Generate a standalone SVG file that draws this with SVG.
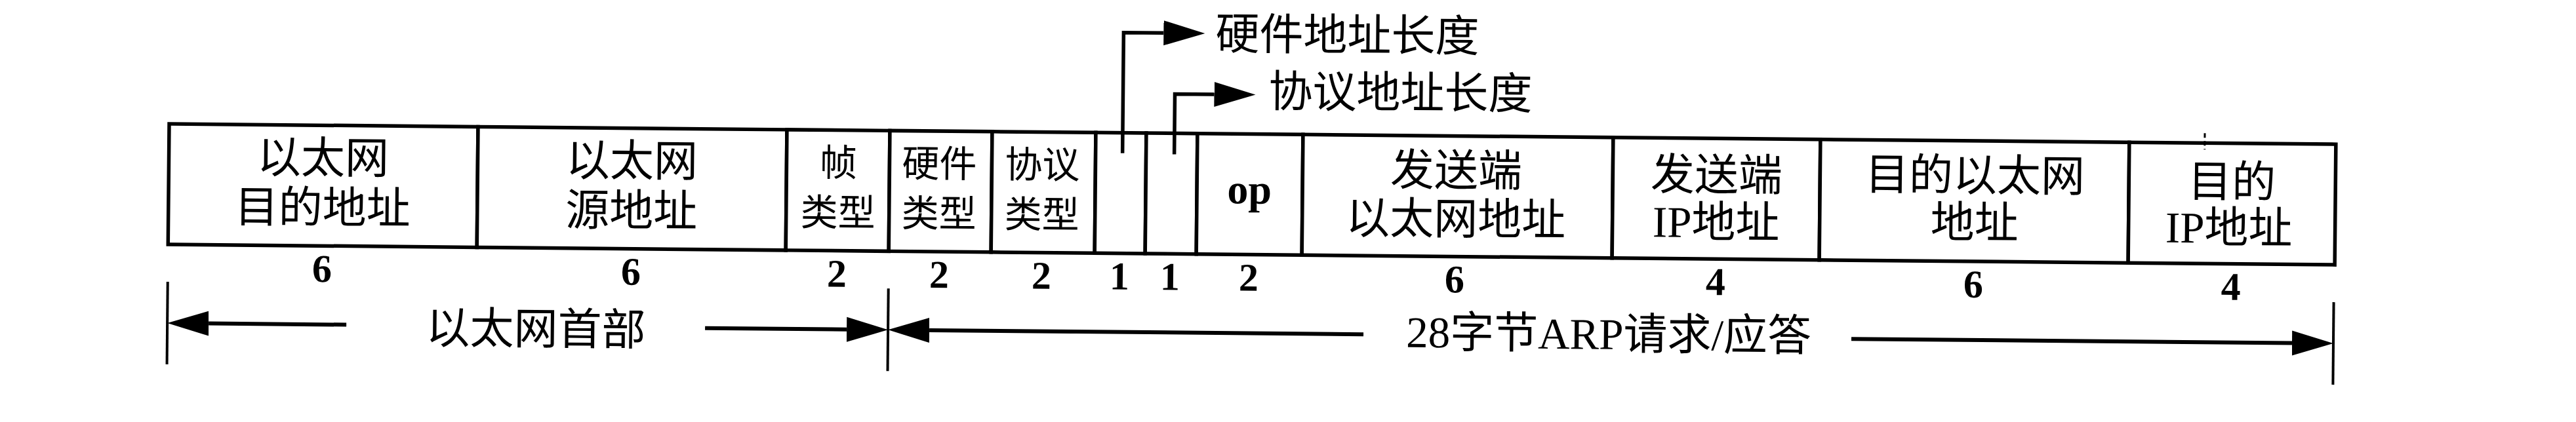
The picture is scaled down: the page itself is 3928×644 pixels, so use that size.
<svg xmlns="http://www.w3.org/2000/svg" width="3928" height="644" viewBox="0 0 3928 644">
<style>
.box{fill:#fff;stroke:#000;stroke-width:5.5}
.t{font-family:'Liberation Serif','Noto Sans CJK SC',serif;font-size:67px;text-anchor:middle;fill:#000}
.ts{font-size:57px}
.lt{text-anchor:start}
.num{font-family:'Liberation Serif',serif;font-weight:bold;font-size:60px;text-anchor:middle;fill:#000}
.op{font-family:'Liberation Serif',serif;font-weight:bold;font-size:64px;text-anchor:middle;fill:#000}
.ln{stroke:#000;stroke-width:6;fill:none}
.ld{stroke:#000;stroke-width:5.5;fill:none}
.tick{stroke:#000;stroke-width:4}
</style>
<defs>
<marker id="ah" markerUnits="userSpaceOnUse" markerWidth="66" markerHeight="42" viewBox="0 -21 66 42" refX="0" refY="0" orient="auto">
<path d="M0,-19 L63,0 L0,19 Z" fill="#000"/>
</marker>
</defs>
<rect width="3928" height="644" fill="#fff"/>
<g transform="rotate(0.54 258 189)">
<g id="f-eth-dst">
<rect class="box" x="258" y="189" width="471" height="184"/>
<text class="t" x="493" y="262">以太网</text>
<text class="t" x="493" y="338">目的地址</text>
<text class="num" x="493" y="428">6</text>
</g>
<g id="f-eth-src">
<rect class="box" x="729" y="189" width="471" height="184"/>
<text class="t" x="964" y="262">以太网</text>
<text class="t" x="964" y="338">源地址</text>
<text class="num" x="964" y="428">6</text>
</g>
<g id="f-frame-type">
<rect class="box" x="1200" y="189" width="157" height="184"/>
<text class="t ts" x="1279" y="259">帧</text>
<text class="t ts" x="1279" y="335">类型</text>
<text class="num" x="1278" y="428">2</text>
</g>
<g id="f-hw-type">
<rect class="box" x="1357" y="189" width="156" height="184"/>
<text class="t ts" x="1433" y="259">硬件</text>
<text class="t ts" x="1433" y="335">类型</text>
<text class="num" x="1434" y="428">2</text>
</g>
<g id="f-proto-type">
<rect class="box" x="1513" y="189" width="158" height="184"/>
<text class="t ts" x="1590" y="259">协议</text>
<text class="t ts" x="1590" y="335">类型</text>
<text class="num" x="1590" y="428">2</text>
</g>
<g id="f-hw-len">
<rect class="box" x="1671" y="189" width="77" height="184"/>
<text class="num" x="1709" y="428">1</text>
</g>
<g id="f-proto-len">
<rect class="box" x="1748" y="189" width="78" height="184"/>
<text class="num" x="1786" y="428">1</text>
</g>
<g id="f-op">
<rect class="box" x="1826" y="189" width="161" height="184"/>
<text class="op" x="1906" y="295">op</text>
<text class="num" x="1906" y="428">2</text>
</g>
<g id="f-snd-eth">
<rect class="box" x="1987" y="189" width="473" height="184"/>
<text class="t" x="2221" y="265">发送端</text>
<text class="t" x="2221" y="339">以太网地址</text>
<text class="num" x="2220" y="428">6</text>
</g>
<g id="f-snd-ip">
<rect class="box" x="2460" y="189" width="316" height="184"/>
<text class="t" x="2618" y="268">发送端</text>
<text class="t" x="2618" y="340">IP地址</text>
<text class="num" x="2618" y="428">4</text>
</g>
<g id="f-dst-eth">
<rect class="box" x="2776" y="189" width="471" height="184"/>
<text class="t" x="3012" y="265">目的以太网</text>
<text class="t" x="3012" y="337">地址</text>
<text class="num" x="3011" y="428">6</text>
</g>
<g id="f-dst-ip">
<rect class="box" x="3247" y="189" width="315" height="184"/>
<text class="t" x="3404" y="271">目的</text>
<text class="t" x="3400" y="341">IP地址</text>
<text class="num" x="3404" y="428">4</text>
</g>
<g id="lbl-hw-len">
<text class="t lt" x="1852" y="60">硬件地址长度</text>
</g>
<g id="lbl-proto-len">
<text class="t lt" x="1934" y="147">协议地址长度</text>
</g>
<g id="lbl-eth-hdr">
<text class="t" x="820" y="520">以太网首部</text>
</g>
<g id="lbl-arp">
<text class="t" x="2456" y="512">28字节ARP请求/应答</text>
</g>
<g id="connectors">
<path class="ld" d="M1712,220 V36 H1773" marker-end="url(#ah)"/>
<path class="ld" d="M1791,221 V129 H1851" marker-end="url(#ah)"/>
<line class="tick" x1="258" y1="430" x2="258" y2="556"/>
<line class="tick" x1="1357" y1="430" x2="1357" y2="556"/>
<line class="tick" x1="3561" y1="430" x2="3561" y2="556"/>
<line class="ln" x1="531" y1="493" x2="321" y2="493" marker-end="url(#ah)"/>
<line class="ln" x1="1078" y1="493" x2="1294" y2="493" marker-end="url(#ah)"/>
<line class="ln" x1="2082" y1="493" x2="1420" y2="493" marker-end="url(#ah)"/>
<line class="ln" x1="2826" y1="493" x2="3498" y2="493" marker-end="url(#ah)"/>
<line x1="3362" y1="174" x2="3362" y2="199" stroke="#000" stroke-width="3" stroke-dasharray="7 5"/>
</g>
</g>
</svg>
